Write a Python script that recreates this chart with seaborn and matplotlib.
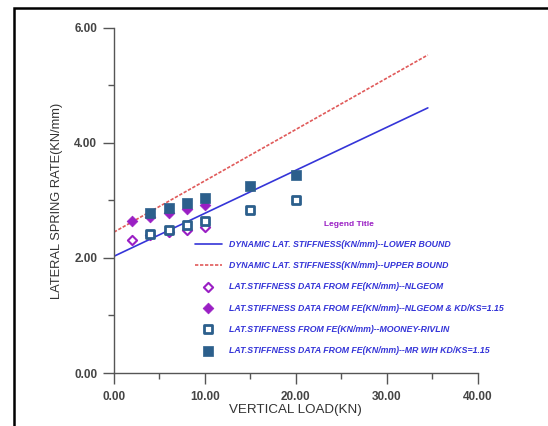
import numpy as np
import pandas as pd
import matplotlib
matplotlib.use('Agg')
import matplotlib.pyplot as plt
import seaborn as sns
from matplotlib.patches import Rectangle
from matplotlib import font_manager

# bound lines (endpoints)
bound_load = [0.0, 34.5]
lower_bound = [2.03, 4.61]
upper_bound = [2.45, 5.53]

# FE data
nlgeom_load = [2, 4, 6, 8, 10]
nlgeom_rate = [2.31, 2.40, 2.45, 2.49, 2.54]
nlgeom_kd_rate = [2.65, 2.71, 2.79, 2.85, 2.93]

mr_load = [4, 6, 8, 10, 15, 20]
mr_rate = [2.41, 2.49, 2.57, 2.65, 2.83, 3.00]
mr_kd_rate = [2.79, 2.87, 2.96, 3.04, 3.25, 3.45]

labels = [
    'DYNAMIC LAT. STIFFNESS(KN/mm)--LOWER BOUND',
    'DYNAMIC LAT. STIFFNESS(KN/mm)--UPPER BOUND',
    'LAT.STIFFNESS DATA FROM FE(KN/mm)--NLGEOM',
    'LAT.STIFFNESS DATA FROM FE(KN/mm)--NLGEOM & KD/KS=1.15',
    'LAT.STIFFNESS FROM FE(KN/mm)--MOONEY-RIVLIN',
    'LAT.STIFFNESS DATA FROM FE(KN/mm)--MR WIH KD/KS=1.15',
]

x_ticks = [0, 10, 20, 30, 40]
y_ticks = [0, 2, 4, 6]

sns.set_style('white')
plt.rcParams['font.family'] = ['Liberation Sans', 'DejaVu Sans']

installed = {f.name for f in font_manager.fontManager.ttflist}
narrow = 'Liberation Sans Narrow' if 'Liberation Sans Narrow' in installed else None

BLUE = '#3535d8'
RED = '#e05a5a'
PURPLE = '#9a1fc4'
STEEL = '#2c5f8c'
AXC = '#555555'

fig = plt.figure(figsize=(5.48, 4.26), dpi=100)
ax = fig.add_axes([0.208, 0.1244, 0.664, 0.81])

sns.lineplot(x=bound_load, y=lower_bound, ax=ax, color=BLUE, lw=1.2, label=labels[0])
sns.lineplot(x=bound_load, y=upper_bound, ax=ax, color=RED, lw=1.2, linestyle=(0, (2, 1)), label=labels[1])
sns.scatterplot(x=nlgeom_load, y=nlgeom_rate, ax=ax, marker='D', s=22, facecolor='white',
                edgecolor=PURPLE, linewidth=1.5, label=labels[2], zorder=3)
sns.scatterplot(x=nlgeom_load, y=nlgeom_kd_rate, ax=ax, marker='D', s=30, color=PURPLE,
                edgecolor=PURPLE, linewidth=0.5, label=labels[3], zorder=3)
sns.scatterplot(x=mr_load, y=mr_rate, ax=ax, marker='s', s=36, facecolor='white',
                edgecolor=STEEL, linewidth=2.0, label=labels[4], zorder=3)
sns.scatterplot(x=mr_load, y=mr_kd_rate, ax=ax, marker='s', s=50, color=STEEL,
                edgecolor=STEEL, linewidth=0.5, label=labels[5], zorder=4)

ax.set_xlim(0, 40)
ax.set_ylim(0, 6)
ax.set_xticks(x_ticks)
ax.set_xticklabels([f'{v:.2f}' for v in x_ticks])
ax.set_yticks(y_ticks)
ax.set_yticklabels([f'{v:.2f}' for v in y_ticks])
ax.set_xticks([5, 15, 25, 35], minor=True)
ax.set_yticks([1, 3, 5], minor=True)
ax.tick_params(bottom=True, left=True, which='both')
ax.tick_params(axis='both', which='major', length=8, width=1, color=AXC,
               labelsize=8.5, labelcolor='#444444', direction='out')
ax.tick_params(axis='x', which='major', pad=5)
ax.tick_params(axis='y', which='major', pad=4)
ax.tick_params(axis='both', which='minor', length=4, width=1, color=AXC, direction='out')
for t in ax.get_xticklabels() + ax.get_yticklabels():
    t.set_fontweight('bold')

for s in ['top', 'right']:
    ax.spines[s].set_visible(False)
for s in ['left', 'bottom']:
    ax.spines[s].set_color(AXC)
    ax.spines[s].set_linewidth(1)

ax.set_xlabel('VERTICAL LOAD(KN)', fontsize=9.6, color='#333333', labelpad=1)
ax.set_ylabel('LATERAL SPRING RATE(KN/mm)', fontsize=9.3, color='#333333', labelpad=8)

leg_size = 7.6 if narrow else 6.3
leg = ax.legend(loc='upper left', bbox_to_anchor=(0.214, 0.452), frameon=False,
                title='Legend Title', fontsize=leg_size, handlelength=3.0, handletextpad=0.8,
                labelspacing=1.22 if narrow else 1.4, borderaxespad=0)
leg.get_title().set_color(PURPLE)
leg.get_title().set_fontsize(6)
leg.get_title().set_fontweight('bold')
for t in leg.get_texts():
    t.set_color(BLUE)
    t.set_fontweight('bold')
    t.set_fontstyle('italic')
    if narrow:
        t.set_family(narrow)

# outer frame
fig.patches.append(Rectangle((14 / 548, -0.05), 1.0, 1.0 - 8 / 426 + 0.05,
                             transform=fig.transFigure, fill=False,
                             edgecolor='black', linewidth=1.8))

fig.savefig('out.png', dpi=100)
